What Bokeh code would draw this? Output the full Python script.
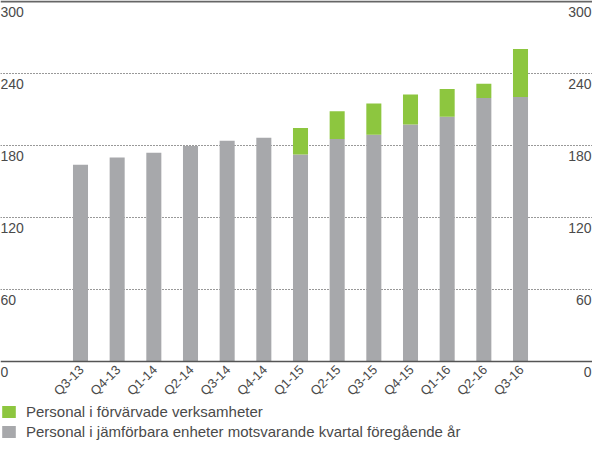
import math
from bokeh.plotting import figure
from bokeh.models import ColumnDataSource, Span, Legend, LegendItem, Grid, FixedTicker, Range1d
from bokeh.core.properties import value
from bokeh.embed import file_html
from bokeh.resources import INLINE

quarters = ["Q3-13", "Q4-13", "Q1-14", "Q2-14", "Q3-14", "Q4-14", "Q1-15",
            "Q2-15", "Q3-15", "Q4-15", "Q1-16", "Q2-16", "Q3-16"]
comparable = [164, 170, 174, 179.5, 184, 186.5, 172.5, 185.5, 189, 197.5, 204, 219.5, 220.5]
acquired = [0, 0, 0, 0, 0, 0, 22, 23, 26, 25, 23, 12, 40]
y_ticks = [0, 60, 120, 180, 240, 300]
legend_labels = ["Personal i förvärvade verksamheter",
                 "Personal i jämförbara enheter motsvarande kvartal föregående år"]

GRAY = "#a7a8ab"
GREEN = "#8dc63f"
TEXT = "#4a4a4a"
FONT = "Liberation Sans"

W, H = 592, 441
unit = 36.67
x_start = -80 / unit
x_end = 12 + 72 / unit
ppu = 1.2
y_end = 300 + 1 / ppu
y_start = -(H - 361) / ppu

p = figure(width=W, height=H, output_backend="svg", toolbar_location=None,
           x_range=Range1d(x_start, x_end), y_range=Range1d(y_start, y_end),
           x_axis_type=None, y_axis_type=None,
           min_border_left=0, min_border_right=0, min_border_top=0, min_border_bottom=0)
p.outline_line_color = None
p.grid.visible = False
p.background_fill_color = "white"

grid = Grid(dimension=1, ticker=FixedTicker(ticks=[60, 120, 180, 240]),
            grid_line_color="#333333", grid_line_dash="1 2", grid_line_width=1.2)
p.add_layout(grid, "center")

src = ColumnDataSource(dict(x=list(range(len(quarters))), comparable=comparable,
                            acquired=acquired, label=quarters))
rs = p.vbar_stack(["comparable", "acquired"], x="x", width=0.41, source=src,
                  color=[GRAY, GREEN], line_color=None)

p.add_layout(Span(location=300, dimension="width", line_color="#666666", line_width=2))
p.add_layout(Span(location=0, dimension="width", line_color="#555555", line_width=1.5))

# x tick labels
p.text(x="x", y=0, text="label", source=src, angle=math.pi / 4,
       text_align="right", text_baseline="middle", x_offset=1, y_offset=6,
       text_font=value(FONT), text_font_size="13px", text_color=TEXT)

# y tick labels, left and right
ysrc = ColumnDataSource(dict(y=y_ticks, t=[str(v) for v in y_ticks]))
p.text(x=x_start, y="y", text="t", source=ysrc, text_align="left", text_baseline="top",
       y_offset=5, text_font=value(FONT), text_font_size="14px", text_color=TEXT)
p.text(x=x_end, y="y", text="t", source=ysrc, text_align="right", text_baseline="top",
       y_offset=5, x_offset=-1, text_font=value(FONT), text_font_size="14px", text_color=TEXT)

legend = Legend(items=[LegendItem(label=legend_labels[0], renderers=[rs[1]]),
                       LegendItem(label=legend_labels[1], renderers=[rs[0]])],
                location=(0, 1), orientation="vertical",
                glyph_width=17, glyph_height=15, label_height=15, spacing=3,
                padding=0, margin=0, label_standoff=9,
                label_text_font=FONT, label_text_font_size="15px",
                label_text_color=TEXT, label_text_baseline="middle",
                background_fill_alpha=0, border_line_color=None)
p.add_layout(legend)

open("out.html", "w").write(file_html(p, INLINE))
